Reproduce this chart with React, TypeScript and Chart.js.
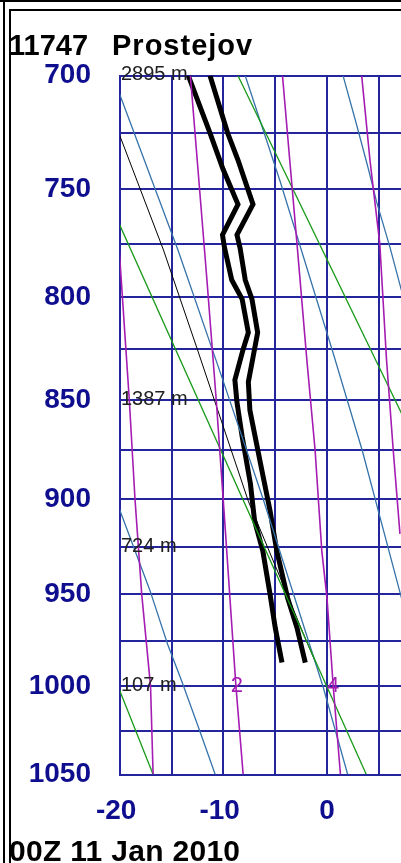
import React, { useEffect, useRef } from 'react';
import { Chart, LinearScale, registerables } from 'chart.js';

const KAPPA = 0.286;

// pressure axis: linear in p^0.286 (Stuve diagram)
class KappaScale extends LinearScale {
  static id = 'kappa';
  static defaults = {};
  getPixelForValue(value: number) {
    const a = Math.pow(this.min, KAPPA);
    const b = Math.pow(this.max, KAPPA);
    return this.getPixelForDecimal((Math.pow(value, KAPPA) - a) / (b - a));
  }
  getValueForPixel(pixel: number) {
    const a = Math.pow(this.min, KAPPA);
    const b = Math.pow(this.max, KAPPA);
    return Math.pow(a + this.getDecimalForPixel(pixel) * (b - a), 1 / KAPPA);
  }
}

Chart.register(...registerables, KappaScale);

// ---- axes ----
const pressureGrid = [700, 725, 750, 775, 800, 825, 850, 875, 900, 925, 950, 975, 1000, 1025, 1050];
const pressureLabels = [700, 750, 800, 850, 900, 950, 1000, 1050];
const tempGrid = [-20, -15, -10, -5, 0, 5];
const tempLabels = [-20, -10, 0];

// ---- sounding ----
const tempP = [700, 725, 737, 757, 771, 777, 792, 801, 817, 829, 841, 855, 868, 885, 906, 927, 952, 968, 987];
const tempT = [-11.3, -9.6, -8.6, -7.15, -8.7, -8.4, -7.9, -7.25, -6.7, -7.15, -7.6, -7.45, -6.95, -6.3, -5.5, -4.85, -3.8, -2.9, -2.1];
const dewP = [700, 725, 741, 757, 771, 777, 792, 801, 817, 825, 840, 851, 868, 892, 911, 927, 950, 968, 987];
const dewT = [-13.4, -11.3, -10.05, -8.6, -10.1, -9.9, -9.2, -8.2, -7.6, -8.1, -8.9, -8.7, -8.2, -7.4, -7.0, -6.2, -5.5, -5.0, -4.35];
const parcelP = [700, 724, 778, 824, 901, 936, 971, 987];
const parcelT = [-22.2, -20.2, -15.8, -12.6, -7.6, -4.9, -2.3, -1.1];

// ---- dry adiabats ----
const dry1P = [1000, 1050];
const dry1T = [-20.2, -16.8];
const dry2P = [700, 1050];
const dry2T = [-26.5, 3.8];
const dry3P = [700, 1050];
const dry3T = [-8.6, 24.1];

// ---- moist adiabats ----
const moist1P = [700, 706, 778, 838, 901, 1000, 1050];
const moist1T = [-20.6, -20.2, -14.4, -10.2, -6.1, -0.4, 2.0];
const moist2P = [700, 747, 827, 875, 952];
const moist2T = [-7.9, -4.5, 0.6, 3.4, 7.2];
const moist3P = [700, 722, 741, 756, 777, 797];
const moist3T = [1.55, 2.9, 4.0, 4.8, 6.1, 7.2];
const moist4P = [903, 948, 977, 997, 1025, 1050];
const moist4T = [-20.2, -17.1, -15.4, -14.05, -12.3, -10.8];

// ---- mixing ratio lines ----
const mix1P = [700, 776, 850, 900, 950, 1000, 1050];
const mix1T = [-21.2, -20.1, -19.1, -18.55, -17.9, -17.05, -16.8];
const mix2P = [700, 792, 850, 910, 1000, 1050];
const mix2T = [-13.2, -11.6, -10.7, -9.9, -8.8, -8.1];
const mix3P = [700, 737, 775, 830, 875, 927, 952, 1000, 1050];
const mix3T = [-4.3, -3.6, -2.9, -1.95, -1.15, -0.5, 0.0, 0.6, 1.3];
const mix4P = [700, 737, 775, 830, 875, 918];
const mix4T = [3.35, 4.15, 5.1, 5.75, 6.4, 7.05];

// ---- annotations ----
const heightP = [700, 850, 925, 1000];
const heightText = ['2895 m', '1387 m', '724 m', '107 m'];
const mixLabelText = ['2', '4'];
const mixLabelT = [-8.7, 0.6];
const mixLabelP = [1000, 1000];

const stationText = ['11747', 'Prostejov'];
const dateText = '00Z 11 Jan 2010';

const GRID = '#24249c';
const NAVY = '#0e0e8e';
const GREEN = '#189a18';
const BLUE = '#3673aa';
const MAGENTA = '#a41cb2';

function series(P: number[], T: number[], color: string, width: number) {
  return {
    data: P.map((p, i) => ({ x: T[i], y: p })),
    showLine: true,
    borderColor: color,
    backgroundColor: color,
    borderWidth: width,
    pointRadius: 0,
    pointHoverRadius: 0,
    fill: false,
    tension: 0,
    clip: 0,
    borderJoinStyle: 'miter' as const,
    borderCapStyle: 'butt' as const,
  };
}

const textPlugin = {
  id: 'soundingText',
  afterDatasetsDraw(chart: any) {
    const { ctx, chartArea } = chart;
    const x = chart.scales.x;
    const y = chart.scales.y;
    ctx.save();
    ctx.font = '20px "Liberation Sans"';
    ctx.fillStyle = '#202020';
    ctx.textBaseline = 'middle';
    ctx.textAlign = 'left';
    heightP.forEach((p, i) => {
      ctx.fillText(heightText[i], chartArea.left + 1, y.getPixelForValue(p) - 1);
    });
    ctx.font = '22px "Liberation Sans"';
    ctx.fillStyle = MAGENTA;
    ctx.textAlign = 'center';
    mixLabelT.forEach((t, i) => {
      ctx.fillText(mixLabelText[i], x.getPixelForValue(t), y.getPixelForValue(mixLabelP[i]));
    });
    ctx.restore();
  },
};

export default function App() {
  const ref = useRef<HTMLCanvasElement | null>(null);

  useEffect(() => {
    if (!ref.current) return;
    const chart = new Chart(ref.current, {
      type: 'scatter',
      data: {
        datasets: [
          series(mix1P, mix1T, MAGENTA, 1.6),
          series(mix2P, mix2T, MAGENTA, 1.6),
          series(mix3P, mix3T, MAGENTA, 1.6),
          series(mix4P, mix4T, MAGENTA, 1.6),
          series(dry1P, dry1T, GREEN, 1.3),
          series(dry2P, dry2T, GREEN, 1.3),
          series(dry3P, dry3T, GREEN, 1.3),
          series(moist1P, moist1T, BLUE, 1.3),
          series(moist2P, moist2T, BLUE, 1.3),
          series(moist3P, moist3T, BLUE, 1.3),
          series(moist4P, moist4T, BLUE, 1.3),
          series(parcelP, parcelT, '#000000', 1),
          series(dewP, dewT, '#000000', 5),
          series(tempP, tempT, '#000000', 5),
        ] as any,
      },
      options: {
        animation: false,
        responsive: false,
        devicePixelRatio: 1,
        events: [],
        layout: { padding: { top: 75.7, left: 0, right: 0, bottom: 0 } },
        plugins: {
          legend: { display: false },
          tooltip: { enabled: false },
          title: { display: false },
        },
        scales: {
          x: {
            type: 'linear',
            min: -20,
            max: 7.15,
            afterBuildTicks: (scale: any) => {
              scale.ticks = tempGrid.map((v) => ({ value: v }));
            },
            afterFit: (scale: any) => {
              scale.height = 88.5;
            },
            grid: { color: GRID, lineWidth: 2, drawTicks: false },
            border: { display: true, color: GRID, width: 2 },
            ticks: {
              autoSkip: false,
              maxRotation: 0,
              padding: 20,
              color: NAVY,
              font: { family: '"Liberation Sans"', size: 28, weight: 'bold' },
              callback: (v: any) =>
                tempLabels.includes(v) ? (v < 0 ? `${v} ` : `${v}`) : '',
            },
          },
          y: {
            type: 'kappa' as any,
            reverse: true,
            min: 700,
            max: 1050,
            afterBuildTicks: (scale: any) => {
              scale.ticks = pressureGrid.map((v) => ({ value: v }));
            },
            afterFit: (scale: any) => {
              scale.width = 120;
            },
            grid: { color: GRID, lineWidth: 2, drawTicks: false },
            border: { display: true, color: GRID, width: 2 },
            ticks: {
              autoSkip: false,
              padding: 29,
              color: NAVY,
              font: { family: '"Liberation Sans"', size: 28, weight: 'bold' },
              callback: (v: any) => (pressureLabels.includes(v) ? String(v) : ''),
            },
          } as any,
        },
      },
      plugins: [textPlugin],
    });
    return () => chart.destroy();
  }, []);

  const bold = (size: number): React.CSSProperties => ({
    position: 'absolute',
    font: `bold ${size}px "Liberation Sans"`,
    lineHeight: `${size}px`,
    color: '#000',
    whiteSpace: 'pre',
    margin: 0,
  });

  return (
    <div
      style={{
        position: 'fixed',
        left: 0,
        top: 0,
        width: 401,
        height: 863,
        overflow: 'hidden',
        background: '#fff',
      }}
    >
      <canvas ref={ref} width={401} height={863} style={{ position: 'absolute', left: 0, top: 0, display: 'block' }} />
      <div style={{ ...bold(29), left: 9, top: 31 }}>{stationText[0]}</div>
      <div style={{ ...bold(29), left: 112, top: 31, letterSpacing: '1px' }}>{stationText[1]}</div>
      <div style={{ ...bold(30), left: 9, top: 836, letterSpacing: '0.3px' }}>{dateText}</div>
      <div style={{ position: 'absolute', left: 0, top: 0, width: 401, height: 2, background: '#000' }} />
      <div style={{ position: 'absolute', left: 9, top: 9, width: 392, height: 2, background: '#000' }} />
      <div style={{ position: 'absolute', left: 3, top: 0, width: 2, height: 863, background: '#000' }} />
      <div style={{ position: 'absolute', left: 9, top: 9, width: 2, height: 854, background: '#000' }} />
    </div>
  );
}
